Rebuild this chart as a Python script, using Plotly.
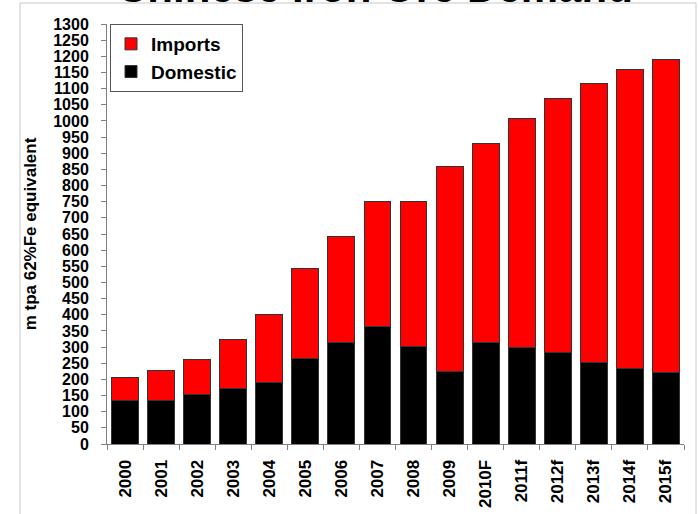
import plotly.graph_objects as go

years = ["2000", "2001", "2002", "2003", "2004", "2005", "2006", "2007",
         "2008", "2009", "2010F", "2011f", "2012f", "2013f", "2014f", "2015f"]
domestic = [134, 134, 152, 173, 191, 265, 313, 363, 301, 224, 313, 298, 283, 253, 235, 221]
total = [205, 228, 263, 322, 401, 544, 641, 752, 752, 859, 930, 1008, 1068, 1115, 1160, 1189]
imports = [t - d for t, d in zip(total, domestic)]
yticks = list(range(0, 1301, 50))

W, H = 699, 514
ML, MT = 107, 24
MR = W - 684
MB = H - 444
pw = W - ML - MR
ph = H - MT - MB

def sx(p):
    return (p - ML) / pw

def sy(p):
    return (H - MB - p) / ph

fam = "Liberation Sans"
line_col = "#333333"

fig = go.Figure()
fig.add_trace(go.Bar(x=years, y=domestic, name="Domestic",
                     marker=dict(color="#000000", line=dict(color=line_col, width=1))))
fig.add_trace(go.Bar(x=years, y=imports, name="Imports",
                     marker=dict(color="#ff0000", line=dict(color=line_col, width=1))))

fig.update_layout(
    width=W, height=H,
    margin=dict(l=ML, r=MR, t=MT, b=MB, pad=0, autoexpand=False),
    barmode="stack", bargap=0.255,
    paper_bgcolor="white", plot_bgcolor="white",
    font=dict(family=fam, color="black"),
    showlegend=True,
    legend=dict(x=sx(110), y=sy(24), xanchor="left", yanchor="top",
                traceorder="reversed", bordercolor="#555555", borderwidth=1,
                bgcolor="white", itemwidth=30,
                font=dict(family=fam, size=19, color="black", weight="bold")),
    xaxis=dict(type="category", showline=True, linecolor="#808080", linewidth=1,
               ticks="outside", tickson="boundaries", ticklen=5, tickcolor="#808080",
               tickangle=-90, showgrid=False, ticklabelstandoff=8, automargin=False,
               tickfont=dict(family=fam, size=17, color="black", weight="bold")),
    yaxis=dict(range=[0, 1300], tickvals=yticks, showline=True, linecolor="#808080",
               linewidth=1, ticks="outside", ticklen=5, tickcolor="#808080",
               showgrid=False, zeroline=False, ticklabelstandoff=9, automargin=False,
               tickfont=dict(family=fam, size=16, color="black", weight="bold"),
               title=dict(text="m tpa 62%Fe equivalent", standoff=12,
                          font=dict(family=fam, size=17, color="black", weight="bold"))),
    annotations=[dict(text="Chinese Iron Ore Demand", xref="paper", yref="paper",
                      x=sx(375), y=sy(-13), xanchor="center", yanchor="middle",
                      showarrow=False,
                      font=dict(family=fam, size=42, color="black", weight="bold"))],
    shapes=[
        dict(type="line", xref="paper", yref="paper", x0=sx(20), x1=sx(20),
             y0=sy(3), y1=sy(514), line=dict(color="#c8c8c8", width=1)),
        dict(type="line", xref="paper", yref="paper", x0=sx(20), x1=sx(696),
             y0=sy(3), y1=sy(3), line=dict(color="#c8c8c8", width=1)),
        dict(type="line", xref="paper", yref="paper", x0=sx(696), x1=sx(696),
             y0=sy(3), y1=sy(514), line=dict(color="#c8c8c8", width=1)),
    ],
)

# remove the browser's default 8px body margin so the figure sits at the page origin
fig.write_html("out.html", config={"displayModeBar": False},
               post_script="document.body.style.margin='0';")
